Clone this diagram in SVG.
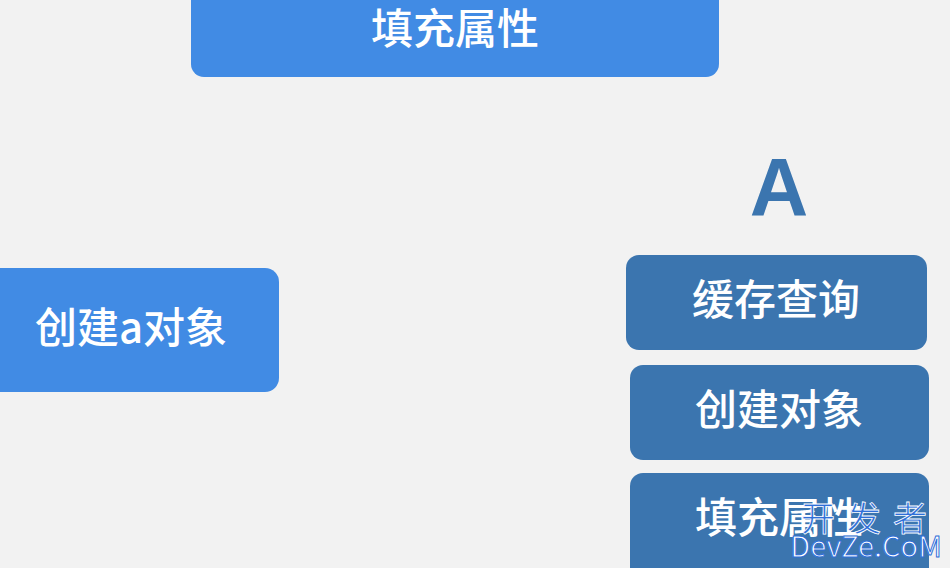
<svg xmlns="http://www.w3.org/2000/svg" width="950" height="568" viewBox="0 0 950 568">
<style>
.bl{fill:#418be4}
.dk{fill:#3b75af}
.t{font-family:"Noto Sans CJK SC","Noto Sans",sans-serif;font-size:42px;font-weight:500;fill:#ffffff;text-anchor:middle}
.wm{font-family:"Noto Sans CJK SC","Liberation Sans",sans-serif;text-anchor:middle}
</style>
<rect x="0" y="0" width="950" height="568" fill="#f2f2f2"/>
<g id="top">
<path class="bl" d="M191,0 H719 V64 A13,13 0 0 1 706,77 H204 A13,13 0 0 1 191,64 Z"/>
<text class="t" x="455" y="44">填充属性</text>
</g>
<g id="left">
<path class="bl" d="M0,268 H265 A14,14 0 0 1 279,282 V378 A14,14 0 0 1 265,392 H0 Z"/>
<text class="t" x="131" y="343">创建a对象</text>
</g>
<g id="labelA">
<text x="779" y="215" font-family="Liberation Sans,Arial,sans-serif" font-weight="bold" font-size="81" fill="#3b75af" text-anchor="middle">A</text>
</g>
<g id="r1">
<rect class="dk" x="626" y="255" width="301" height="95" rx="13"/>
<text class="t" x="776" y="315">缓存查询</text>
</g>
<g id="r2">
<rect class="dk" x="630" y="365" width="299" height="95" rx="13"/>
<text class="t" x="779" y="425">创建对象</text>
</g>
<g id="r3">
<path class="dk" d="M643,473 H916 A13,13 0 0 1 929,486 V568 H630 V486 A13,13 0 0 1 643,473 Z"/>
<text class="t" x="779" y="533">填充属性</text>
</g>
<g id="connectors"></g>
<g id="watermark">
<text class="wm" x="870" y="531" font-size="34" fill="#2f6fd8" stroke="#ffffff" stroke-width="0.8" letter-spacing="12">开发者</text>
<text class="wm" x="866" y="557" font-size="29" fill="#ffffff" stroke="#2f6fd8" stroke-width="1">DevZe.CoM</text>
</g>
</svg>
